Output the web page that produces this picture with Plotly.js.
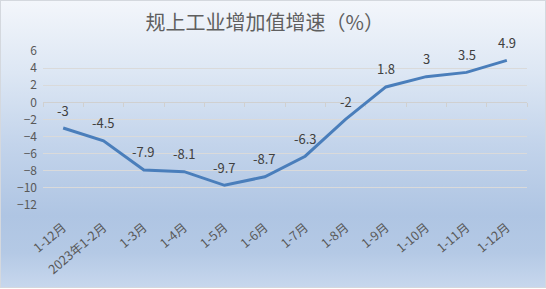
<!DOCTYPE html>
<html><head><meta charset="utf-8">
<script src="https://cdn.plot.ly/plotly-3.0.1.min.js"></script>
<style>
html,body{margin:0;padding:0;background:#fff;}
#wrap{position:absolute;left:0;top:0;width:544px;height:286px;border:1px solid #d4d8de;
background:linear-gradient(to bottom,#f3f6fb 0%,#dde7f4 25%,#c3d4eb 50%,#afc5e3 75%,#b4c9e5 88%,#c7d7ed 100%);}
#chart{position:absolute;left:-1px;top:-1px;width:546px;height:289px;}
</style></head>
<body><div id="wrap"><div id="chart"></div></div>
<script>
const labels = ['1-12月','2023年1-2月','1-3月','1-4月','1-5月','1-6月','1-7月','1-8月','1-9月','1-10月','1-11月','1-12月'];
const growth = [-3, -4.5, -7.9, -8.1, -9.7, -8.7, -6.3, -2, 1.8, 3, 3.5, 4.9];
const titleText = '规上工业增加值增速（%）';
const yTicks = [6, 4, 2, 0, -2, -4, -6, -8, -10, -12];

const idx = labels.map((_, i) => i);
const font = "'Noto Sans CJK SC', 'Noto Sans', sans-serif";

const traces = [
  {x: idx, y: growth, type: 'scatter', mode: 'lines',
   line: {color: '#4a7ebb', width: 3}, hoverinfo: 'skip', cliponaxis: false},
  {x: idx, y: growth, xaxis: 'x2', type: 'scatter', mode: 'lines',
   line: {width: 0}, opacity: 0, hoverinfo: 'skip', showlegend: false}
];

const annotations = growth.map((v, i) => ({
  x: i, y: v, xref: 'x', yref: 'y', text: String(v), showarrow: false,
  yshift: 18, font: {family: font, size: 13, color: '#404040'}
}));

const layout = {
  width: 546, height: 289,
  margin: {l: 43, r: 19, t: 51, b: 84, pad: 0},
  paper_bgcolor: 'rgba(0,0,0,0)', plot_bgcolor: 'rgba(0,0,0,0)',
  showlegend: false,
  title: {text: titleText, x: 0.485, xanchor: 'center', y: 0.92, yanchor: 'middle',
          font: {family: font, size: 20, color: '#5f5f5f'}},
  xaxis: {range: [-0.5, 11.5], tickvals: idx, ticktext: labels, tickangle: -40,
          showgrid: false, zeroline: false, showline: false, ticks: '',
          ticklabelstandoff: 12,
          tickfont: {family: font, size: 12.5, color: '#595959'}},
  xaxis2: {overlaying: 'x', matches: 'x', anchor: 'free', position: 12/18,
           range: [-0.5, 11.5], tick0: -0.5, dtick: 1, ticks: 'outside', ticklen: 4,
           tickcolor: '#d0d0d0', showline: true, linecolor: '#d0d0d0', linewidth: 1,
           showticklabels: false, showgrid: false, zeroline: false, layer: 'below traces'},
  yaxis: {range: [-12, 6], tickvals: yTicks, showgrid: true, gridcolor: '#dadada', gridwidth: 1,
          zeroline: false, showline: false, ticks: '', ticklabelstandoff: 5,
          tickfont: {family: font, size: 12, color: '#595959'}},
  annotations: annotations
};

Plotly.newPlot('chart', traces, layout, {displayModeBar: false, staticPlot: true});
</script></body></html>
